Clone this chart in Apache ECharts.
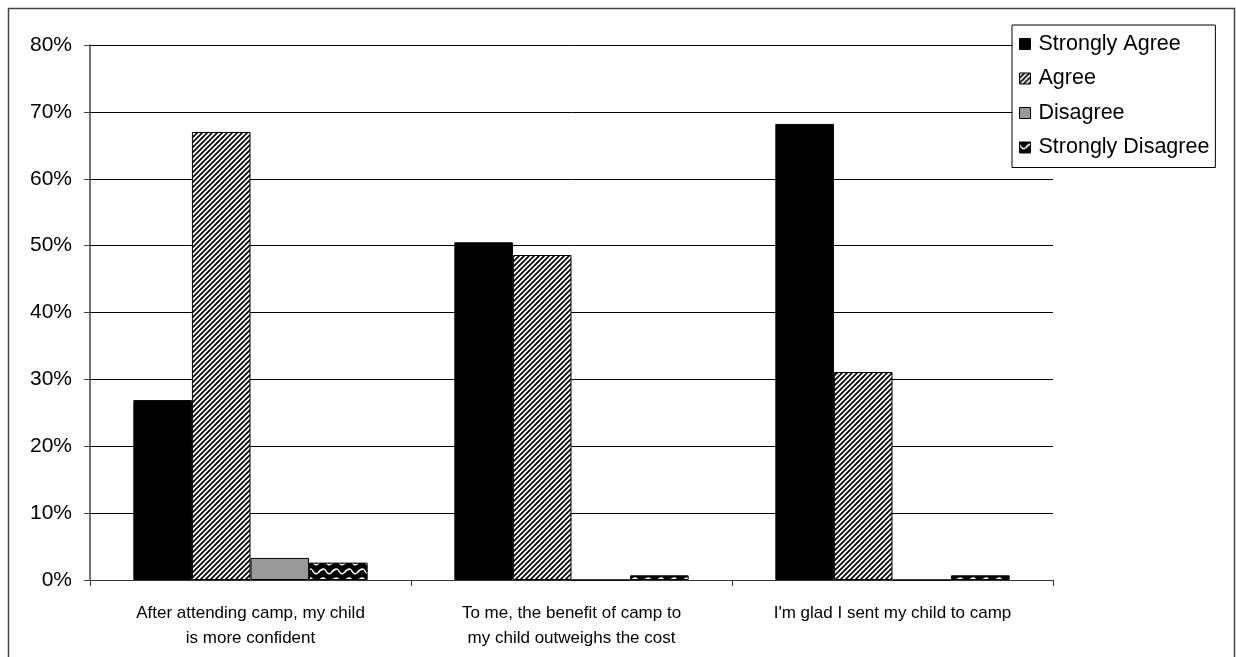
<!DOCTYPE html>
<html>
<head>
<meta charset="utf-8">
<script src="https://cdn.jsdelivr.net/npm/echarts@6/dist/echarts.min.js"></script>
<style>
  html, body { margin: 0; padding: 0; background: #fff; }
  #chart { width: 1236px; height: 657px; }
</style>
</head>
<body>
<div id="chart"></div>
<script>
// Survey statements (x-axis categories)
const categories = [
  "After attending camp, my child\nis more confident",
  "To me, the benefit of camp to\nmy child outweighs the cost",
  "I'm glad I sent my child to camp"
];

// Share of responses per statement, in percent
const stronglyAgree    = [26.9, 50.5, 68.2];
const agree            = [67.0, 48.6, 31.1];
const disagree         = [3.3, 0, 0];
const stronglyDisagree = [2.6, 0.7, 0.7];

const seriesNames = ["Strongly Agree", "Agree", "Disagree", "Strongly Disagree"];

// Y axis range
const yMin = 0, yMax = 80, yStep = 10;

// Diagonal hatching: fine black stripes on white
function hatchPattern() {
  const s = 5;
  const c = document.createElement('canvas');
  c.width = s; c.height = s;
  const g = c.getContext('2d');
  g.fillStyle = '#fff';
  g.fillRect(0, 0, s, s);
  g.strokeStyle = '#000';
  g.lineWidth = 1.7;
  g.beginPath();
  g.moveTo(-1, s + 1); g.lineTo(s + 1, -1);
  g.moveTo(-1, 1); g.lineTo(1, -1);
  g.moveTo(s - 1, s + 1); g.lineTo(s + 1, s - 1);
  g.stroke();
  return c;
}

// White zigzag waves on black
function wavePattern() {
  const w = 13, h = 9;
  const c = document.createElement('canvas');
  c.width = w; c.height = h;
  const g = c.getContext('2d');
  g.fillStyle = '#000';
  g.fillRect(0, 0, w, h);
  g.strokeStyle = '#fff';
  g.lineWidth = 1.5;
  g.beginPath();
  g.moveTo(0, 2.5);
  g.quadraticCurveTo(3.25, 9, 6.5, 5.5);
  g.quadraticCurveTo(9.75, 1, 13, 2.5);
  g.stroke();
  return c;
}

const fills = [
  '#000000',
  { image: hatchPattern(), repeat: 'repeat' },
  '#999999',
  { image: wavePattern(), repeat: 'repeat' }
];
const values = [stronglyAgree, agree, disagree, stronglyDisagree];

const chart = echarts.init(document.getElementById('chart'), null, { renderer: 'canvas' });

chart.setOption({
  animation: false,
  backgroundColor: '#ffffff',
  textStyle: { fontFamily: "'Liberation Sans', Arial, sans-serif", color: '#000' },
  graphic: [{
    type: 'rect',
    shape: { x: 8.5, y: 8.5, width: 1226, height: 700 },
    style: { fill: 'none', stroke: '#444', lineWidth: 1.5 },
    silent: true,
    z: -1
  }],
  grid: { left: 90, right: 183, top: 45, bottom: 77, containLabel: false },
  legend: {
    orient: 'vertical',
    left: 1012,
    top: 25,
    data: seriesNames,
    icon: 'rect',
    itemWidth: 11,
    itemHeight: 11,
    itemGap: 10.5,
    padding: [7, 6, 8, 7],
    backgroundColor: '#fff',
    borderColor: '#000',
    borderWidth: 1,
    borderRadius: 0,
    textStyle: { fontSize: 21.5, lineHeight: 24, color: '#000', padding: [0, 0, 0, 3] },
    itemStyle: { borderColor: '#000', borderWidth: 1 },
    z: 10
  },
  xAxis: {
    type: 'category',
    data: categories,
    boundaryGap: true,
    axisLine: { show: true, lineStyle: { color: '#333', width: 1 } },
    axisTick: { show: true, alignWithLabel: false, length: 6, lineStyle: { color: '#333' } },
    axisLabel: {
      interval: 0,
      margin: 21,
      fontSize: 17,
      lineHeight: 25,
      color: '#000'
    },
    splitLine: { show: false }
  },
  yAxis: {
    type: 'value',
    min: yMin,
    max: yMax,
    interval: yStep,
    axisLine: { show: true, lineStyle: { color: '#444', width: 1.5 } },
    axisTick: { show: true, length: 6, lineStyle: { color: '#444' } },
    axisLabel: { formatter: '{value}%', fontSize: 21, margin: 18, color: '#000' },
    splitLine: { show: true, lineStyle: { color: '#000', width: 1 } }
  },
  series: seriesNames.map((name, i) => ({
    name: name,
    type: 'bar',
    data: values[i],
    barGap: '0%',
    barCategoryGap: '27%',
    itemStyle: { color: fills[i], borderColor: '#000', borderWidth: 1 },
    emphasis: { disabled: true }
  }))
});
</script>
</body>
</html>
